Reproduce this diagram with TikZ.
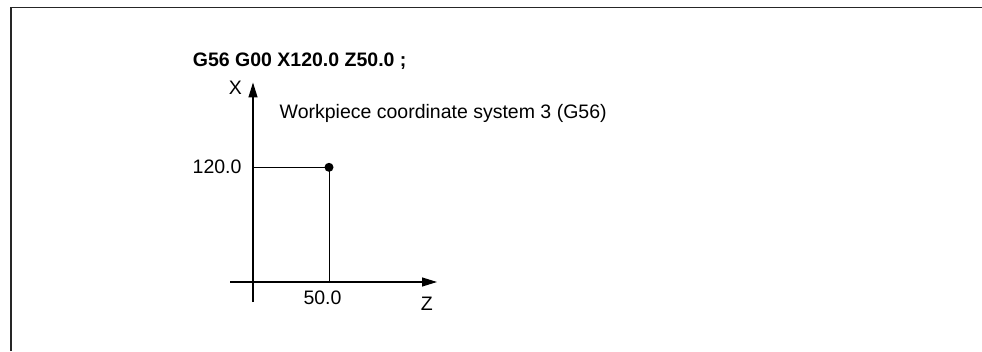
\documentclass[tikz,border=0pt]{standalone}
\usepackage{fontspec}
\setmainfont{Liberation Sans}
\usetikzlibrary{arrows.meta}
\begin{document}
\begin{tikzpicture}[x=1pt,y=1pt,
  frame/.style={draw=black!85,line width=1.6pt},
  axis/.style={draw=black,line width=1.2pt,-{Triangle[length=15pt,width=9pt]}},
  thin/.style={draw=black,line width=1pt},
  lbl/.style={inner sep=0pt,font=\fontsize{19.5}{22}\selectfont},
  ttl/.style={inner sep=0pt,font=\fontsize{19.5}{22}\selectfont\bfseries},
  dotn/.style={circle,fill=black,inner sep=0pt,minimum size=9pt}]
\useasboundingbox (0,0) rectangle (982,351);
% frame
\coordinate (fl) at (11,0);
\coordinate (fc) at (11,343.5);
\coordinate (fr) at (982,343.5);
\draw[frame] (fl) -- (fc) -- (fr);
% title
\node[ttl,anchor=base west] (title) at (192.7,284.3) {G56 G00 X120.0 Z50.0 ;};
% axes
\coordinate (xb) at (253,49);
\coordinate (xt) at (253,268.5);
\coordinate (zl) at (230,69);
\coordinate (zr) at (437,69);
\draw[axis] (xb) -- (xt);
\draw[axis] (zl) -- (zr);
% labels
\node[lbl,anchor=base west] (xl) at (228.7,256.3) {X};
\node[lbl,anchor=base west] (zlbl) at (420.7,41) {Z};
\node[lbl,anchor=base west] (ws) at (279.5,232.7) {Workpiece coordinate system 3 (G56)};
\node[lbl,anchor=base east] (v120) at (241.7,177) {120.0};
\node[lbl,anchor=base west] (v50) at (303.3,47) {50.0};
% point
\node[dotn] (pt) at (329,183.7) {};
\coordinate (px) at (253,183.7);
\coordinate (pz) at (329,69);
\draw[thin] (px) -- (pt.center) -- (pz);
\end{tikzpicture}
\end{document}
